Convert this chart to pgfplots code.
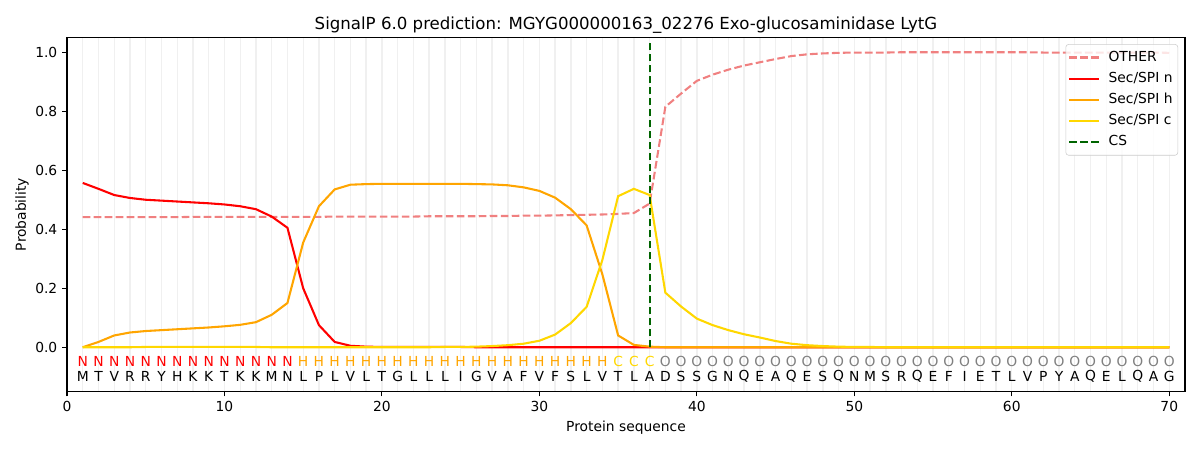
\documentclass[border=0pt]{standalone}
\usepackage{fontspec}
\setmainfont{DejaVu Sans}
\usepackage{pgfplots}
\usepackage{pgfplotstable}
\pgfplotsset{compat=1.18}
\definecolor{other}{HTML}{F08080}
\definecolor{secn}{HTML}{FF0000}
\definecolor{sech}{HTML}{FFA500}
\definecolor{secc}{HTML}{FFD700}
\definecolor{cs}{HTML}{006400}
\definecolor{oth}{HTML}{808080}

\pgfplotstableread{
x other n h c
1 0.441 0.557 0.000 0.000
2 0.441 0.537 0.018 0.000
3 0.441 0.516 0.040 0.000
4 0.441 0.506 0.050 0.000
5 0.441 0.500 0.055 0.001
6 0.441 0.497 0.058 0.001
7 0.441 0.494 0.061 0.001
8 0.442 0.491 0.064 0.001
9 0.442 0.488 0.067 0.001
10 0.442 0.484 0.071 0.001
11 0.442 0.478 0.076 0.001
12 0.442 0.468 0.085 0.001
13 0.442 0.443 0.110 0.000
14 0.442 0.405 0.150 0.000
15 0.442 0.200 0.355 0.000
16 0.442 0.075 0.478 0.000
17 0.443 0.018 0.535 0.000
18 0.443 0.005 0.551 0.000
19 0.443 0.002 0.553 0.000
20 0.443 0.001 0.554 0.000
21 0.443 0.001 0.554 0.000
22 0.443 0.001 0.554 0.000
23 0.444 0.001 0.554 0.000
24 0.444 0.001 0.554 0.001
25 0.444 0.001 0.554 0.001
26 0.444 0.000 0.553 0.002
27 0.445 0.000 0.552 0.004
28 0.445 0.000 0.549 0.007
29 0.446 0.000 0.542 0.012
30 0.446 0.000 0.530 0.022
31 0.447 0.000 0.507 0.043
32 0.448 0.000 0.468 0.082
33 0.449 0.000 0.413 0.137
34 0.450 0.000 0.247 0.296
35 0.452 0.000 0.040 0.512
36 0.455 0.000 0.008 0.537
37 0.487 0.000 0.002 0.516
38 0.815 0.000 0.000 0.185
39 0.860 0.000 0.000 0.138
40 0.903 0.000 0.000 0.097
41 0.924 0.000 0.000 0.075
42 0.941 0.000 0.000 0.058
43 0.955 0.000 0.000 0.044
44 0.966 0.000 0.000 0.033
45 0.977 0.000 0.000 0.021
46 0.987 0.000 0.000 0.012
47 0.993 0.000 0.000 0.007
48 0.996 0.000 0.000 0.004
49 0.998 0.000 0.000 0.002
50 0.999 0.000 0.000 0.001
51 0.999 0.000 0.000 0.001
52 0.999 0.000 0.000 0.000
53 1.000 0.000 0.000 0.000
54 1.000 0.000 0.000 0.000
55 1.000 0.000 0.000 0.000
56 1.000 0.000 0.000 0.000
57 1.000 0.000 0.000 0.000
58 1.000 0.000 0.000 0.000
59 1.000 0.000 0.000 0.000
60 1.000 0.000 0.000 0.000
61 1.000 0.000 0.000 0.000
62 0.999 0.000 0.000 0.000
63 0.999 0.000 0.000 0.000
64 0.999 0.000 0.000 0.000
65 0.999 0.000 0.000 0.000
66 0.999 0.000 0.000 0.000
67 0.999 0.000 0.000 0.000
68 0.999 0.000 0.000 0.000
69 0.999 0.000 0.000 0.000
70 0.998 0.000 0.000 0.000
}\probs

\pgfplotstableread{
x y aa
1 -0.099 M
2 -0.099 T
3 -0.099 V
4 -0.099 R
5 -0.099 R
6 -0.099 Y
7 -0.099 H
8 -0.099 K
9 -0.099 K
10 -0.099 T
11 -0.099 K
12 -0.099 K
13 -0.099 M
14 -0.099 N
15 -0.099 L
16 -0.099 P
17 -0.099 L
18 -0.099 V
19 -0.099 L
20 -0.099 T
21 -0.099 G
22 -0.099 L
23 -0.099 L
24 -0.099 L
25 -0.099 I
26 -0.099 G
27 -0.099 V
28 -0.099 A
29 -0.099 F
30 -0.099 V
31 -0.099 F
32 -0.099 S
33 -0.099 L
34 -0.099 V
35 -0.099 T
36 -0.099 L
37 -0.099 A
38 -0.099 D
39 -0.099 S
40 -0.099 S
41 -0.099 G
42 -0.099 N
43 -0.099 Q
44 -0.099 E
45 -0.099 A
46 -0.099 Q
47 -0.099 E
48 -0.099 S
49 -0.099 Q
50 -0.099 N
51 -0.099 M
52 -0.099 S
53 -0.099 R
54 -0.099 Q
55 -0.099 E
56 -0.099 F
57 -0.099 I
58 -0.099 E
59 -0.099 T
60 -0.099 L
61 -0.099 V
62 -0.099 P
63 -0.099 Y
64 -0.099 A
65 -0.099 Q
66 -0.099 E
67 -0.099 L
68 -0.099 Q
69 -0.099 A
70 -0.099 G
}\seqaa

\pgfplotstableread{
x y lab
1 -0.047 N
2 -0.047 N
3 -0.047 N
4 -0.047 N
5 -0.047 N
6 -0.047 N
7 -0.047 N
8 -0.047 N
9 -0.047 N
10 -0.047 N
11 -0.047 N
12 -0.047 N
13 -0.047 N
14 -0.047 N
}\labN

\pgfplotstableread{
x y lab
15 -0.047 H
16 -0.047 H
17 -0.047 H
18 -0.047 H
19 -0.047 H
20 -0.047 H
21 -0.047 H
22 -0.047 H
23 -0.047 H
24 -0.047 H
25 -0.047 H
26 -0.047 H
27 -0.047 H
28 -0.047 H
29 -0.047 H
30 -0.047 H
31 -0.047 H
32 -0.047 H
33 -0.047 H
34 -0.047 H
}\labH

\pgfplotstableread{
x y lab
35 -0.047 C
36 -0.047 C
37 -0.047 C
}\labC

\pgfplotstableread{
x y lab
38 -0.047 O
39 -0.047 O
40 -0.047 O
41 -0.047 O
42 -0.047 O
43 -0.047 O
44 -0.047 O
45 -0.047 O
46 -0.047 O
47 -0.047 O
48 -0.047 O
49 -0.047 O
50 -0.047 O
51 -0.047 O
52 -0.047 O
53 -0.047 O
54 -0.047 O
55 -0.047 O
56 -0.047 O
57 -0.047 O
58 -0.047 O
59 -0.047 O
60 -0.047 O
61 -0.047 O
62 -0.047 O
63 -0.047 O
64 -0.047 O
65 -0.047 O
66 -0.047 O
67 -0.047 O
68 -0.047 O
69 -0.047 O
70 -0.047 O
}\labO

\pgfplotsset{
  seqlabel/.style={draw=none, mark=none, forget plot,
    nodes near coords={\pgfplotspointmeta},
    point meta=explicit symbolic,
    every node near coord/.append style={anchor=center, inner sep=0pt,
      text=#1, font=\fontsize{10}{12}\selectfont}},
}

\begin{document}
\begin{tikzpicture}
\path[use as bounding box] (-0.67in,-0.585in) rectangle (11.33in,3.915in);
\begin{axis}[
  scale only axis,
  width=11.18in, height=3.54in,
  xmin=0, xmax=71, ymin=-0.15, ymax=1.05,
  xtick={0,10,...,70},
  minor x tick num=9,
  ytick={0,0.2,0.4,0.6,0.8,1.0},
  yticklabel style={/pgf/number format/.cd, fixed, fixed zerofill, precision=1},
  /pgf/number format/assume math mode=true,
  tick label style={font=\fontsize{10}{12}\selectfont},
  tick align=outside,
  major tick length=3.5pt,
  minor tick length=0pt,
  xtick pos=left, ytick pos=left,
  every tick/.style={black, line width=0.8pt},
  axis line style={line width=0.8pt},
  xmajorgrids, xminorgrids,
  major grid style={black!6, line width=1pt},
  minor grid style={black!6, line width=1pt},
  every axis title shift=0pt,
  title={SignalP 6.0 prediction: MGYG000000163\_02276 Exo-glucosaminidase LytG},
  title style={at={(axis description cs:0.5,1.0235)}, anchor=base, font=\fontsize{12}{14}\selectfont, inner sep=0pt},
  xlabel={Protein sequence},
  xlabel style={at={(axis description cs:0.5,-0.113)}, anchor=base, font=\fontsize{10}{12}\selectfont, inner sep=0pt},
  ylabel={Probability},
  ylabel style={at={(axis description cs:-0.0403,0.5)}, anchor=center, font=\fontsize{10}{12}\selectfont, inner sep=0pt},
  legend style={at={(axis description cs:1,1)}, anchor=north east, xshift=-5pt, yshift=-4.8pt,
    draw=black!20, rounded corners=2pt, fill=white, fill opacity=0.8, text opacity=1,
    font=\fontsize{10}{12}\selectfont, inner xsep=1.8pt, inner ysep=2.8pt, row sep=2pt, column sep=4pt,
    nodes={text height=7.3pt, text depth=2pt, inner sep=2pt}},
  legend cell align=left,
  legend image code/.code={\draw[#1] (0pt,0pt) -- (21.6pt,0pt);},
]
\addplot[other, line width=1.5pt, dash pattern=on 5.55pt off 2.4pt] table[x=x, y=other] {\probs};
\addlegendentry{OTHER}
\addplot[secn, line width=1.5pt] table[x=x, y=n] {\probs};
\addlegendentry{Sec/SPI n}
\addplot[sech, line width=1.5pt] table[x=x, y=h] {\probs};
\addlegendentry{Sec/SPI h}
\addplot[secc, line width=1.5pt] table[x=x, y=c] {\probs};
\addlegendentry{Sec/SPI c}
\addplot[cs, line width=1.5pt, dash pattern=on 5.55pt off 2.4pt] coordinates {(37,0) (37,1.04)};
\addlegendentry{CS}
\addplot[seqlabel=secn] table[x=x, y=y, meta=lab] {\labN};
\addplot[seqlabel=sech] table[x=x, y=y, meta=lab] {\labH};
\addplot[seqlabel=secc] table[x=x, y=y, meta=lab] {\labC};
\addplot[seqlabel=oth] table[x=x, y=y, meta=lab] {\labO};
\addplot[seqlabel=black] table[x=x, y=y, meta=aa] {\seqaa};
\end{axis}
\end{tikzpicture}
\end{document}
